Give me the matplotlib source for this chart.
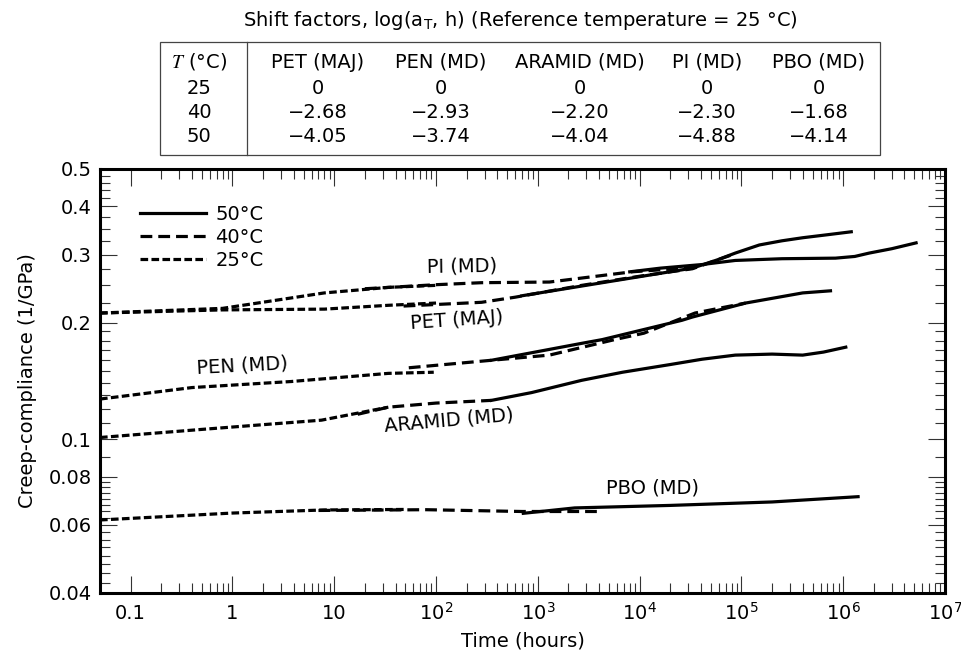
import matplotlib
matplotlib.use("Agg")
import matplotlib.pyplot as plt
from matplotlib.lines import Line2D
from matplotlib.patches import Rectangle
from matplotlib.ticker import NullFormatter

"""
Creep compliance master curves (reference temperature 25 C) for five films
"""

plt.rcParams['font.family'] = ['DejaVu Sans']
plt.rcParams['mathtext.default'] = 'regular'
plt.rcParams['lines.scale_dashes'] = False

FS = 14  # text size used throughout

# shift factor table
TABLE_TITLE = "Shift factors, log(a$_T$, h) (Reference temperature = 25 °C)"
MATERIALS = ["PET (MAJ)", "PEN (MD)", "ARAMID (MD)", "PI (MD)", "PBO (MD)"]
TEMPS = ["25", "40", "50"]
SHIFT_25 = ["0", "0", "0", "0", "0"]
SHIFT_40 = ["−2.68", "−2.93", "−2.20", "−2.30", "−1.68"]
SHIFT_50 = ["−4.05", "−3.74", "−4.04", "−4.88", "−4.14"]

# creep curves: time (hours) / compliance (1/GPa), one list per temperature
PI_25_T = [0.05, 0.8, 8, 34, 100]
PI_25_C = [0.212, 0.218, 0.239, 0.247, 0.250]
PI_40_T = [20, 100, 280, 1300, 8400, 3.3e4]
PI_40_C = [0.245, 0.251, 0.254, 0.255, 0.271, 0.278]
PI_50_T = [8000, 1.6e4, 4.1e4, 8.7e4, 2.5e5, 8.4e5, 1.3e6, 1.8e6, 3e6, 5.2e6]
PI_50_C = [0.271, 0.277, 0.283, 0.290, 0.293, 0.294, 0.297, 0.303, 0.311, 0.322]

PET_25_T = [0.05, 0.8, 8, 34, 100]
PET_25_C = [0.212, 0.216, 0.217, 0.222, 0.225]
PET_40_T = [48, 280, 600, 2700, 1.1e4, 3.3e4, 8.7e4]
PET_40_C = [0.221, 0.226, 0.233, 0.250, 0.265, 0.276, 0.302]
PET_50_T = [700, 4300, 3.3e4, 5.8e4, 8.7e4, 1.5e5, 2.5e5, 4e5, 7e5, 1.2e6]
PET_50_C = [0.235, 0.254, 0.277, 0.291, 0.303, 0.318, 0.326, 0.332, 0.338, 0.344]

PEN_25_T = [0.05, 0.4, 3.8, 34, 95]
PEN_25_C = [0.127, 0.136, 0.141, 0.148, 0.149]
PEN_40_T = [54, 350, 1300, 5700, 1.1e4, 3.5e4, 1.1e5]
PEN_40_C = [0.153, 0.160, 0.165, 0.181, 0.188, 0.212, 0.225]
PEN_50_T = [350, 2700, 4300, 2.6e4, 3.3e4, 1.1e5, 4e5, 7.5e5]
PEN_50_C = [0.160, 0.177, 0.181, 0.203, 0.207, 0.225, 0.239, 0.242]

ARAMID_25_T = [0.05, 0.5, 7.5, 34]
ARAMID_25_C = [0.101, 0.106, 0.112, 0.121]
ARAMID_40_T = [17, 34, 100, 350]
ARAMID_40_C = [0.116, 0.121, 0.124, 0.126]
ARAMID_50_T = [350, 870, 2700, 6800, 2e4, 4.1e4, 8.7e4, 2e5, 4e5, 6.4e5, 1.06e6]
ARAMID_50_C = [0.126, 0.132, 0.142, 0.149, 0.156, 0.161, 0.165, 0.166, 0.165, 0.168, 0.173]

PBO_25_T = [0.05, 1, 8, 50]
PBO_25_C = [0.0618, 0.0644, 0.0656, 0.0658]
PBO_40_T = [7, 80, 700, 3800]
PBO_40_C = [0.0654, 0.0657, 0.0650, 0.0650]
PBO_50_T = [720, 2300, 2e4, 2e5, 1.4e6]
PBO_50_C = [0.0643, 0.0664, 0.0674, 0.0688, 0.0710]

# curve labels: text, time, compliance, rotation
LABELS = [("PI (MD)", 178, 0.280, 1),
          ("PET (MAJ)", 159, 0.203, 4),
          ("PEN (MD)", 1.24, 0.155, 3),
          ("ARAMID (MD)", 133, 0.112, 5),
          ("PBO (MD)", 1.33e4, 0.0748, 0)]

X_TICKS = [0.1, 1, 10, 1e2, 1e3, 1e4, 1e5, 1e6, 1e7]
X_TICK_LABELS = ["0.1", "1", "10", "$10^2$", "$10^3$", "$10^4$", "$10^5$", "$10^6$", "$10^7$"]
X_MINOR = [m * 10.0 ** e for e in range(-1, 7) for m in range(2, 10)]
Y_TICKS = [0.04, 0.06, 0.08, 0.1, 0.2, 0.3, 0.4, 0.5]
Y_TICK_LABELS = ["0.04", "0.06", "0.08", "0.1", "0.2", "0.3", "0.4", "0.5"]
Y_MINOR = [0.0425, 0.045, 0.0475, 0.05, 0.0525, 0.055, 0.0575,
           0.0625, 0.065, 0.0675, 0.07, 0.0725, 0.075, 0.0775, 0.09,
           0.11, 0.12, 0.13, 0.14, 0.15, 0.16, 0.17, 0.18, 0.19,
           0.225, 0.25, 0.275, 0.325, 0.35, 0.375, 0.42, 0.44, 0.46, 0.48]

STYLE_50 = dict(color="black", lw=2.3, linestyle="-")
STYLE_40 = dict(color="black", lw=2.3, dashes=(8.5, 4.3))
STYLE_25 = dict(color="black", lw=2.3, dashes=(5.5, 2.4))

W, H = 962, 653


def fx(x):
    return x / W


def fy(y):
    return 1 - y / H


fig = plt.figure(figsize=(9.62, 6.53), dpi=100)
ax = fig.add_axes([fx(100), fy(593), 845 / W, 424 / H])

curves = [(PI_25_T, PI_25_C, PI_40_T, PI_40_C, PI_50_T, PI_50_C),
          (PET_25_T, PET_25_C, PET_40_T, PET_40_C, PET_50_T, PET_50_C),
          (PEN_25_T, PEN_25_C, PEN_40_T, PEN_40_C, PEN_50_T, PEN_50_C),
          (ARAMID_25_T, ARAMID_25_C, ARAMID_40_T, ARAMID_40_C, ARAMID_50_T, ARAMID_50_C),
          (PBO_25_T, PBO_25_C, PBO_40_T, PBO_40_C, PBO_50_T, PBO_50_C)]

for t25, c25, t40, c40, t50, c50 in curves:
    ax.plot(t25, c25, **STYLE_25)
    ax.plot(t40, c40, **STYLE_40)
    ax.plot(t50, c50, **STYLE_50)

for text, t, c, rot in LABELS:
    ax.text(t, c, text, fontsize=FS, ha="center", va="center", rotation=rot)

ax.set_xscale("log")
ax.set_yscale("log")
ax.set_xlim(0.05, 1e7)
ax.set_ylim(0.04, 0.5)

ax.set_xticks(X_TICKS, X_TICK_LABELS)
ax.set_xticks(X_MINOR, minor=True)
ax.xaxis.set_minor_formatter(NullFormatter())
ax.set_yticks(Y_TICKS, Y_TICK_LABELS)
ax.set_yticks(Y_MINOR, minor=True)
ax.yaxis.set_minor_formatter(NullFormatter())

ax.tick_params(which="both", direction="in", top=True, right=True, width=0.8,
               labelsize=FS, color="#333333")
ax.tick_params(which="major", length=12)
ax.tick_params(which="minor", length=7)
ax.tick_params(axis="y", pad=6)
ax.tick_params(axis="x", pad=19)
for lbl in ax.get_xticklabels():
    lbl.set_verticalalignment("baseline")

for sp in ax.spines.values():
    sp.set_linewidth(2.2)

ax.set_xlabel("Time (hours)", fontsize=FS, labelpad=6)
ax.set_ylabel("Creep-compliance (1/GPa)", fontsize=FS, labelpad=8)

handles = [Line2D([], [], **STYLE_50), Line2D([], [], **STYLE_40), Line2D([], [], **STYLE_25)]
ax.legend(handles, ["50°C", "40°C", "25°C"], loc="upper left", bbox_to_anchor=(0.047, 0.915),
          frameon=False, fontsize=FS, borderpad=0, borderaxespad=0,
          handlelength=3.4, handletextpad=0.5, labelspacing=0.2)

# shift factor table above the axes
fig.text(fx(520), fy(21), TABLE_TITLE, fontsize=FS, ha="center", va="center")
fig.add_artist(Rectangle((fx(160), fy(155)), 720 / W, 113 / H, transform=fig.transFigure,
                         fill=False, lw=0.9, edgecolor="#444444"))
fig.add_artist(Line2D([fx(247), fx(247)], [fy(42), fy(155)], transform=fig.transFigure,
                      lw=0.9, color="#444444"))

col_x = [318, 441, 580, 707, 819]
row_y = [62, 88, 113, 137]
fig.text(fx(199), fy(row_y[0]), r"$\mathit{T}$ (°C)", fontsize=FS, ha="center", va="center",
         math_fontfamily="stix")
for i, name in enumerate(MATERIALS):
    fig.text(fx(col_x[i]), fy(row_y[0]), name, fontsize=FS, ha="center", va="center")
for r, (temp, vals) in enumerate(zip(TEMPS, [SHIFT_25, SHIFT_40, SHIFT_50])):
    fig.text(fx(199), fy(row_y[r + 1]), temp, fontsize=FS, ha="center", va="center")
    for i, v in enumerate(vals):
        fig.text(fx(col_x[i]), fy(row_y[r + 1]), v, fontsize=FS, ha="center", va="center")

fig.savefig("out.png", dpi=100)
